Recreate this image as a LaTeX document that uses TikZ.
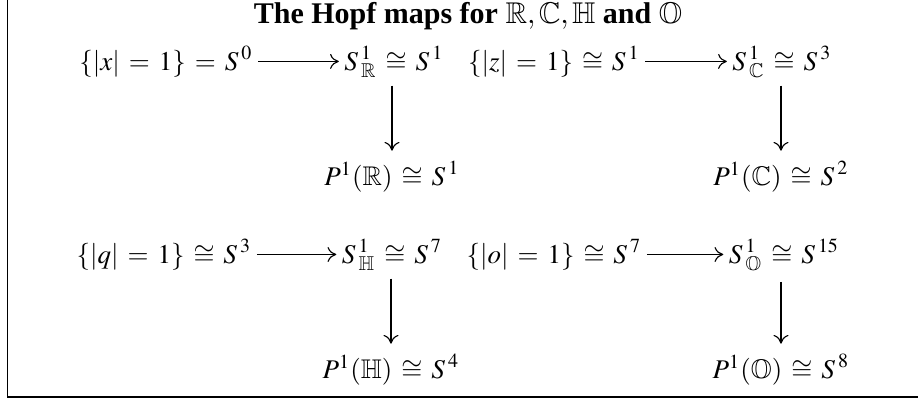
\documentclass[tikz,border=0pt]{standalone}
\usepackage{amssymb}
\usepackage{mathptmx}
\usepackage[no-math]{fontspec}
\setmainfont{Liberation Serif}
\usetikzlibrary{arrows.meta}

% sphere with its scripts set off a little
\newcommand{\Sph}{{S\mkern2mu}}
\thickmuskip=6mu plus 2mu

\begin{document}
\begin{tikzpicture}[x=0.4pt,y=-0.4pt]

	\tikzset{hopfarrow/.style={-{To[length=3.5pt,width=6pt]}, line width=0.45pt}}
	\tikzset{hopfterm/.style={anchor=base, inner sep=2pt, font=\fontsize{10.8}{13}\selectfont}}

	% Parameters
	\def\rowtop{70}    % baseline, upper maps
	\def\rowbot{263}   % baseline, lower maps
	\def\drop{115}     % sphere row to projective row

	\useasboundingbox (0,0) rectangle (918,400);

	% frame
	\draw[line width=0.5pt] (7.5,0) -- (7.5,397) -- (918,397);

	\node[anchor=base, font=\fontsize{12}{14}\selectfont\bfseries] (title) at (468,23)
	{The Hopf maps for $\mathbb{R},\mathbb{C},\mathbb{H}$ and $\mathbb{O}$};

	%real and complex

	\node[hopfterm] (r1a) at (166,\rowtop) {$\{|x| = 1\} = \Sph^{0}$};
	\node[hopfterm] (r1b) at (394,\rowtop) {$\Sph^{1}_{\mathbb{R}} \cong \Sph^{1}$};
	\node[hopfterm] (r1c) at (392,\rowtop+\drop) {$P^1(\mathbb{R}) \cong \Sph^{1}$};

	\node[hopfterm] (c1a) at (554,\rowtop) {$\{|z| = 1\} \cong \Sph^{1}$};
	\node[hopfterm] (c1b) at (782,\rowtop) {$\Sph^{1}_{\mathbb{C}} \cong \Sph^{3}$};
	\node[hopfterm] (c1c) at (781,\rowtop+\drop) {$P^1(\mathbb{C}) \cong \Sph^{2}$};

	%quaternions and octonions

	\node[hopfterm] (h1a) at (164,\rowbot) {$\{|q| = 1\} \cong \Sph^{3}$};
	\node[hopfterm] (h1b) at (392,\rowbot) {$\Sph^{1}_{\mathbb{H}} \cong \Sph^{7}$};
	\node[hopfterm] (h1c) at (391,\rowbot+\drop) {$P^1(\mathbb{H}) \cong \Sph^{4}$};

	\node[hopfterm] (o1a) at (554,\rowbot) {$\{|o| = 1\} \cong \Sph^{7}$};
	\node[hopfterm] (o1b) at (784,\rowbot) {$\Sph^{1}_{\mathbb{O}} \cong \Sph^{15}$};
	\node[hopfterm] (o1c) at (781,\rowbot+\drop) {$P^1(\mathbb{O}) \cong \Sph^{8}$};

	\draw[hopfarrow] (r1a.east) -- (r1a.east -| r1b.west);
	\draw[hopfarrow] (c1a.east) -- (c1a.east -| c1b.west);
	\draw[hopfarrow] (h1a.east) -- (h1a.east -| h1b.west);
	\draw[hopfarrow] (o1a.east) -- (o1a.east -| o1b.west);

	\draw[hopfarrow, shorten <=1pt, shorten >=2pt] (r1c.north |- r1b.south) -- (r1c.north);
	\draw[hopfarrow, shorten <=1pt, shorten >=2pt] (c1c.north |- c1b.south) -- (c1c.north);
	\draw[hopfarrow, shorten <=1pt, shorten >=2pt] (h1c.north |- h1b.south) -- (h1c.north);
	\draw[hopfarrow, shorten <=1pt, shorten >=2pt] (o1c.north |- o1b.south) -- (o1c.north);

\end{tikzpicture}
\end{document}
